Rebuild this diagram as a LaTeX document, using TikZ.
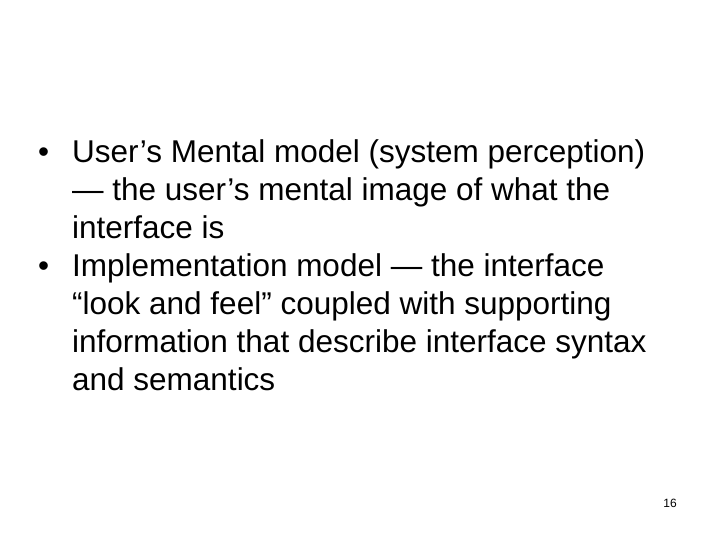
\documentclass[tikz,border=0pt]{standalone}
\usepackage{fontspec}
\setmainfont{Liberation Sans}
\usetikzlibrary{positioning}
\tikzset{
 txt/.style
  = {anchor=north west, inner sep=0pt, align=left, font=\fontsize{31.5}{38}\selectfont},
 dot/.style
  = {anchor=north west, inner sep=0pt, font=\fontsize{31.5}{38}\selectfont},
}
\begin{document}
\begin{tikzpicture}[x=1pt,y=1pt]
    \useasboundingbox (0,0) rectangle (720,540);
    \node [dot] (dotA) at (38,404.6) {\strut\textbullet};
    \node [txt] (itemA) at (72,404.6) {\strut User’s Mental model (system perception)\\
      — the user’s mental image of what the\\ interface is};
    \node [dot] (dotB) at (38,290.6) {\strut\textbullet};
    \node [txt] (itemB) at (72,290.6) {\strut Implementation model — the interface\\
      “look and feel” coupled with supporting\\
      information that describe interface syntax\\ and semantics};
    \node [anchor=base east, inner sep=0pt, font=\fontsize{12}{14}\selectfont] (page) at (677,32) {16};
\end{tikzpicture}
\end{document}
